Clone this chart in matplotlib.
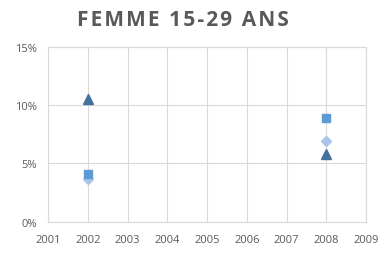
import matplotlib.pyplot as plt
from matplotlib.ticker import FuncFormatter, MultipleLocator

years = [2002, 2008]
series_square = [4.1, 8.9]
series_diamond = [3.7, 6.9]
series_triangle = [10.5, 5.8]
title = 'FEMME 15-29 ANS'

GRID = '#D9D9D9'
TEXT = '#595959'

plt.rcParams['font.family'] = ['Open Sans', 'DejaVu Sans']

fig = plt.figure(figsize=(3.87, 2.55), dpi=100)
ax = fig.add_axes([0.124, 0.127, 0.822, 0.685])

ax.plot(years, series_diamond, linestyle='none', marker='D', markersize=5,
        color='#A9C4EB', markeredgecolor='#A9C4EB')
ax.plot(years, series_square, linestyle='none', marker='s', markersize=6.3,
        color='#5B9BD5', markeredgecolor='#5B9BD5')
ax.plot(years, series_triangle, linestyle='none', marker='^', markersize=6.5,
        color='#41719C', markeredgecolor='#41719C')

ax.set_xlim(2001, 2009)
ax.set_ylim(0, 15)
ax.xaxis.set_major_locator(MultipleLocator(1))
ax.yaxis.set_major_locator(MultipleLocator(5))
ax.yaxis.set_major_formatter(FuncFormatter(lambda v, p: '%d%%' % v))
ax.grid(color=GRID, linewidth=0.8)
ax.set_axisbelow(True)
for s in ax.spines.values():
    s.set_color(GRID)
    s.set_linewidth(0.8)
ax.tick_params(length=0, labelsize=8, colors=TEXT)
ax.tick_params(axis='x', pad=9)
ax.tick_params(axis='y', pad=8)

# letter spaced title
spaced = '\u200a'.join(title)
fig.text(0.472, 0.92, spaced, ha='center', va='center',
         fontsize=15, fontweight='bold', color=TEXT)

fig.savefig('out.png', dpi=100)
